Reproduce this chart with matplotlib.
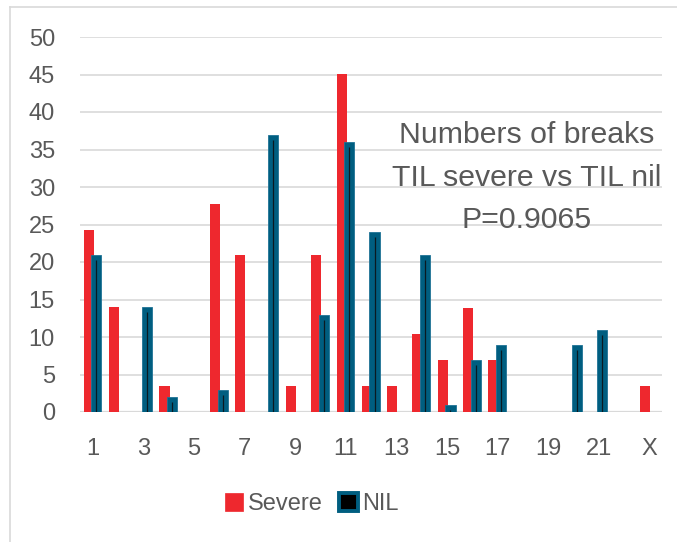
import matplotlib
matplotlib.use("Agg")
import matplotlib.pyplot as plt
from matplotlib.patches import Patch
from matplotlib.lines import Line2D
import numpy as np

categories = [str(i) for i in range(1, 23)] + ["X"]
severe = [24.3, 14, 0, 3.5, 0, 27.8, 20.9, 0, 3.5, 20.9, 45.1, 3.5, 3.5, 10.4, 7, 13.9, 7, 0, 0, 0, 0, 0, 3.5]
nil = [21, 0, 14, 2, 0, 3, 0, 37, 0, 13, 36, 24, 0, 21, 1, 7, 9, 0, 0, 9, 11, 0, 0]
yticks = [0, 5, 10, 15, 20, 25, 30, 35, 40, 45, 50]

RED = "#EE282E"
BLUE = "#005E80"
GREY = "#595959"

plt.rcParams['font.family'] = ['Liberation Sans', 'DejaVu Sans']

W, H = 677, 542
fig = plt.figure(figsize=(W / 100, H / 100), dpi=100)
ax = fig.add_axes([80 / W, 1 - 412 / H, 582 / W, 375 / H])

x = np.arange(len(categories))
bw = 0.4
ax.bar(x - 0.16, severe, width=bw, color=RED, zorder=3)
ax.bar(x + 0.14, nil, width=bw, color=BLUE, edgecolor="#1f7396", linewidth=0.6, zorder=4)
nil_arr = np.array(nil, dtype=float)
mask = nil_arr > 0
ax.vlines(x[mask] + 0.14, 0, np.maximum(nil_arr[mask] - 0.7, 0.3), color="#0a1a22", linewidth=0.9, zorder=5)

ax.set_xlim(-0.5, len(categories) - 0.5)
ax.set_ylim(0, 50)
ax.set_yticks(yticks)
ax.set_yticklabels([str(v) for v in yticks])
ax.set_xticks(x[::2])
ax.set_xticklabels(categories[::2])
ax.tick_params(axis='both', length=0, labelsize=17, colors=GREY)
ax.tick_params(axis='x', pad=19)
ax.tick_params(axis='y', pad=18)
ax.grid(axis='y', color="#d9d9d9", linewidth=1.2, zorder=0)
for s in ax.spines.values():
    s.set_visible(False)
ax.axhline(0, color="#d9d9d9", linewidth=1.6, zorder=2)

tx = 527 / W
fig.text(tx, 1 - 135 / H, "Numbers of breaks", ha='center', va='center', fontsize=21.8, color=GREY)
fig.text(tx, 1 - 178 / H, "TIL severe vs TIL nil", ha='center', va='center', fontsize=21.8, color=GREY)
fig.text(tx, 1 - 220 / H, "P=0.9065", ha='center', va='center', fontsize=21.8, color=GREY)

handles = [Patch(facecolor=RED, edgecolor=RED, linewidth=0.5),
           Patch(facecolor="black", edgecolor=BLUE, linewidth=2.8)]
leg = fig.legend(handles, ["Severe", "NIL"], loc='center', bbox_to_anchor=(312 / W, 1 - 504 / H),
                 ncol=2, frameon=False, fontsize=17, handlelength=0.78, handleheight=0.78,
                 handletextpad=0.2, columnspacing=0.7, labelcolor=GREY)

# outer border
fig.add_artist(Line2D([10 / W, 1], [1 - 7 / H, 1 - 7 / H], transform=fig.transFigure, color="#d9d9d9", linewidth=1.2))
fig.add_artist(Line2D([10 / W, 10 / W], [0, 1 - 7 / H], transform=fig.transFigure, color="#d9d9d9", linewidth=1.2))

fig.savefig("out.png", dpi=100, facecolor="white")
